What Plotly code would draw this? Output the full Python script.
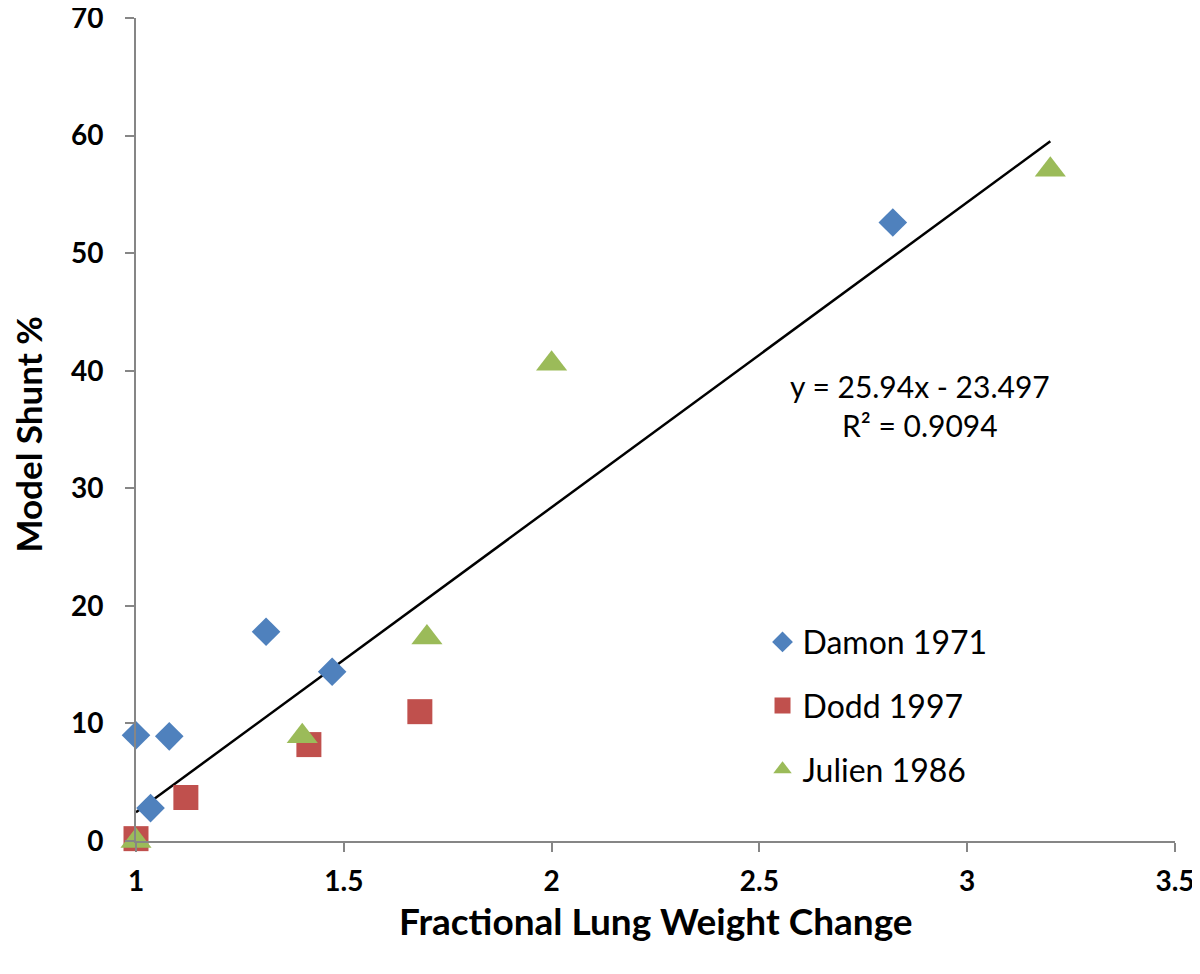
import plotly.graph_objects as go

# Data
damon_x = [1.0, 1.035, 1.08, 1.313, 1.472, 2.821]
damon_y = [9.0, 2.8, 8.9, 17.8, 14.4, 52.6]
dodd_x = [1.0, 1.12, 1.416, 1.683]
dodd_y = [0.2, 3.7, 8.2, 11.0]
julien_x = [1.0, 1.4, 1.7, 2.0, 3.2]
julien_y = [0.0, 8.9, 17.3, 40.6, 57.1]
trend_slope = 25.94
trend_intercept = -23.497
trend_x = [1.0, 3.2]
trend_y = [trend_slope * x + trend_intercept for x in trend_x]

FONT = "Lato, 'Open Sans', sans-serif"

fig = go.Figure()
fig.add_trace(go.Scatter(x=trend_x, y=trend_y, mode="lines",
                         line=dict(color="black", width=2.5), showlegend=False))
fig.add_trace(go.Scatter(x=damon_x, y=damon_y, mode="markers", name="Damon 1971",
                         legendgroup="a",
                         marker=dict(symbol="diamond", size=22, color="#4F81BD")))
fig.add_trace(go.Scatter(x=dodd_x, y=dodd_y, mode="markers", name="Dodd 1997",
                         legendgroup="b",
                         marker=dict(symbol="square", size=25, color="#C0504D")))
fig.add_trace(go.Scatter(x=julien_x, y=julien_y, mode="markers", name="Julien 1986",
                         legendgroup="c",
                         marker=dict(symbol="triangle-up", size=27, color="#9BBB59")))

fig.add_annotation(x=2.886, y=37.0, xref="x", yref="y",
                   text="y = 25.94x - 23.497<br>R² = 0.9094", showarrow=False,
                   font=dict(family=FONT, size=30, color="black"), align="center")

# axis titles as annotations for exact placement
fig.add_annotation(x=0.5, y=-0.096, xref="paper", yref="paper",
                   text="<b>Fractional Lung Weight Change</b>", showarrow=False,
                   xanchor="center", yanchor="middle",
                   font=dict(family=FONT, size=37, color="black"))
fig.add_annotation(x=-0.104, y=0.495, xref="paper", yref="paper",
                   text="<b>Model Shunt %</b>", showarrow=False, textangle=-90,
                   xanchor="center", yanchor="middle",
                   font=dict(family=FONT, size=35, color="black"))

fig.update_layout(
    width=1200, height=974,
    margin=dict(l=128, r=33, t=10, b=141),
    paper_bgcolor="white", plot_bgcolor="white",
    font=dict(family=FONT, color="black"),
    legend=dict(x=0.603, y=0.275, xanchor="left", yanchor="top",
                font=dict(family=FONT, size=32, color="black"),
                tracegroupgap=19, traceorder="grouped",
                bgcolor="rgba(0,0,0,0)", itemsizing="trace", itemwidth=30),
    xaxis=dict(range=[1, 3.5], tickvals=[1, 1.5, 2, 2.5, 3, 3.5],
               ticktext=["1", "1.5", "2", "2.5", "3", "3.5"],
               showgrid=False, zeroline=False, showline=True,
               linecolor="#868686", linewidth=2, automargin=False,
               ticks="outside", tickcolor="#868686", ticklen=9, tickwidth=2,
               tickfont=dict(family=FONT, size=28, color="black", weight="bold"),
               ticklabelstandoff=5, ticklabeloverflow="allow"),
    yaxis=dict(range=[0, 70], tickvals=[0, 10, 20, 30, 40, 50, 60, 70],
               showgrid=False, zeroline=False, showline=True,
               linecolor="#868686", linewidth=2, automargin=False,
               ticks="outside", tickcolor="#868686", ticklen=9, tickwidth=2,
               tickfont=dict(family=FONT, size=28, color="black", weight="bold"),
               ticklabelstandoff=16, ticklabeloverflow="allow"),
)
for tr in fig.data:
    tr.cliponaxis = False

fig.write_html("out.html")
